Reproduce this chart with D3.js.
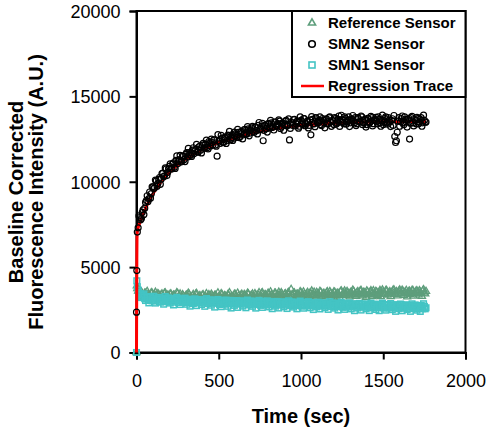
<!DOCTYPE html>
<html><head><meta charset="utf-8">
<script src="https://cdn.jsdelivr.net/npm/d3@7"></script>
<style>html,body{margin:0;padding:0;background:#fff;}svg{display:block;font-family:Arial,"Liberation Sans",sans-serif;}</style>
</head><body><svg id="c" width="488" height="433"></svg>
<script>
const xTicks=[0,500,1000,1500,2000];
const yTicks=[0,5000,10000,15000,20000];
const seriesNames=["Reference Sensor","SMN2 Sensor","SMN1 Sensor","Regression Trace"];
// samples on the 10 s grid
const time=[0,2,5,10,20,30,40,50,60,70,80,90,100,110,120,130,140,150,160,170,180,190,200,210,220,230,240,250,260,270,280,290,300,310,320,330,340,350,360,370,380,390,400,410,420,430,440,450,460,470,480,490,500,510,520,530,540,550,560,570,580,590,600,610,620,630,640,650,660,670,680,690,700,710,720,730,740,750,760,770,780,790,800,810,820,830,840,850,860,870,880,890,900,910,920,930,940,950,960,970,980,990,1000,1010,1020,1030,1040,1050,1060,1070,1080,1090,1100,1110,1120,1130,1140,1150,1160,1170,1180,1190,1200,1210,1220,1230,1240,1250,1260,1270,1280,1290,1300,1310,1320,1330,1340,1350,1360,1370,1380,1390,1400,1410,1420,1430,1440,1450,1460,1470,1480,1490,1500,1510,1520,1530,1540,1550,1560,1570,1580,1590,1600,1610,1620,1630,1640,1650,1660,1670,1680,1690,1700,1710,1720,1730,1740,1750,1760];
const smn2=[2360,4800,7050,7300,7900,7850,8350,8450,8900,8850,9400,9300,9700,9650,10050,9900,10250,10150,10500,10350,10750,10550,10900,10750,11050,10850,11250,11050,11300,11150,11500,11300,11600,11450,11700,11550,11850,11650,11900,11750,12050,11850,12150,11950,12200,12000,12350,12100,12300,12450,12150,11500,12400,12250,12550,12300,12600,12400,12700,12450,12750,12550,12800,12600,12900,12650,12950,12750,13050,12800,13100,12850,13150,12950,13200,13000,13300,13050,13250,12400,13300,13100,13400,13150,13450,13200,13500,13250,13400,13550,13200,13450,13300,13600,13350,12450,13500,13300,13650,13400,13550,13250,13600,13350,13700,13400,13550,13300,12750,13650,13400,13750,13450,13600,13350,13700,13450,13650,13400,13750,13500,13600,13350,13700,13450,13850,13500,13650,13400,13700,13500,13800,13450,13650,13550,13750,13400,13700,13500,13800,13450,13650,13350,13700,13500,13750,13400,13650,13550,13800,13450,13600,13350,13700,13450,13750,13500,13600,13300,12650,12400,13550,13250,13700,13450,13800,13500,13650,12500,13750,13450,13650,13400,13700,13500,13750,13450,13600,13500];
const reference=[0,3900,3750,3600,3450,3550,3350,3480,3300,3420,3250,3500,3330,3400,3260,3450,3300,3380,3220,3470,3310,3360,3240,3420,3280,3350,3200,3460,3300,3250,3380,3210,3330,3270,3400,3180,3320,3250,3410,3190,3300,3230,3360,3170,3290,3220,3380,3160,3310,3240,3350,3190,3270,3220,3390,3180,3300,3240,3370,3200,3280,3230,3400,3210,3320,3250,3420,3200,3340,3270,3430,3220,3350,3280,3450,3230,3360,3300,3460,3240,3370,3290,3480,3250,3380,3310,3470,3260,3390,3320,3500,3270,3400,3330,3480,3280,3700,3340,3490,3290,3420,3350,3510,3300,3430,3360,3520,3290,3440,3370,3530,3310,3450,3380,3540,3320,3460,3390,3560,3330,3470,3400,3550,3340,3480,3410,3570,3350,3490,3420,3580,3360,3500,3430,3590,3370,3510,3440,3600,3380,3520,3450,3610,3390,3530,3460,3620,3400,3540,3470,3630,3410,3550,3480,3640,3420,3560,3490,3650,3430,3570,3500,3660,3440,3580,3510,3640,3450,3590,3520,3630,3460,3600,3530,3620,3470,3610,3500,3580];
const smn1=[0,4200,3850,3650,3400,3250,3350,3150,3280,3100,3220,3050,3180,3020,3200,3080,2980,3150,3040,3190,2970,3110,3010,3160,2950,3090,3020,3170,2940,3060,2990,3140,2930,3070,2980,3120,2920,3050,2970,3100,2900,3040,2960,3090,2890,3030,2950,3080,2880,3020,2940,3070,2870,3010,2930,3060,2860,3000,2920,3050,2850,2990,2910,3040,2840,2980,2900,3030,2830,2970,2890,3020,2820,2960,2880,3010,2810,2950,2870,3000,2800,2940,2860,2990,2790,2930,2850,2980,2780,2920,2840,2970,2770,2910,2830,2960,2760,2900,2820,2950,2750,2890,2810,2940,2740,2880,2800,2930,2730,2870,2790,2920,2720,2860,2780,2910,2710,2850,2770,2900,2700,2840,2760,2890,2690,2830,2750,2880,2680,2820,2740,2870,2670,2810,2730,2860,2660,2800,2720,2850,2650,2790,2710,2840,2640,2780,2700,2830,2630,2770,2690,2820,2620,2760,2680,2810,2610,2750,2670,2800,2600,2740,2660,2790,2590,2730,2650,2780,2580,2720,2640,2770,2570,2710,2630,2760,2560,2700,2620];
// samples in between (5 s offset)
const time2=[15,25,35,45,55,65,75,85,95,105,115,125,135,145,155,165,175,185,195,205,215,225,235,245,255,265,275,285,295,305,315,325,335,345,355,365,375,385,395,405,415,425,435,445,455,465,475,485,495,505,515,525,535,545,555,565,575,585,595,605,615,625,635,645,655,665,675,685,695,705,715,725,735,745,755,765,775,785,795,805,815,825,835,845,855,865,875,885,895,905,915,925,935,945,955,965,975,985,995,1005,1015,1025,1035,1045,1055,1065,1075,1085,1095,1105,1115,1125,1135,1145,1155,1165,1175,1185,1195,1205,1215,1225,1235,1245,1255,1265,1275,1285,1295,1305,1315,1325,1335,1345,1355,1365,1375,1385,1395,1405,1415,1425,1435,1445,1455,1465,1475,1485,1495,1505,1515,1525,1535,1545,1555,1565,1575,1585,1595,1605,1615,1625,1635,1645,1655,1665,1675,1685,1695,1705,1715,1725,1735,1745,1755];
const smn2b=[8000,7770,8210,8080,8790,9180,9010,9040,9700,9610,10100,9740,10140,9850,10470,10300,10810,10360,10770,11050,10760,11110,10780,11510,11170,
11550,11190,11500,11180,11700,11950,11590,11480,11990,11800,12190,11730,12080,11690,12250,12000,12440,11920,12270,12500,12160,12460,12080,12760,12380,
12720,12320,12590,12240,12730,12950,12560,12420,12910,12700,13070,12590,12920,12510,13060,12800,13230,12690,13030,13240,12890,13180,12800,13470,13090,
13420,13010,13270,12910,13390,13595,13190,13030,13500,13270,13620,13120,13440,13015,13550,13270,13680,13125,13440,13640,13265,13540,13140,13795,13390,
13705,13280,13525,13150,13615,13810,13390,13225,13690,13460,13800,13295,13600,13160,13685,13400,13800,13245,13560,13750,13375,13650,13240,13895,13490,
13800,13370,13610,13230,13690,13880,13460,13290,13750,13510,13850,13340,13640,13200,13720,13430,13830,13270,13580,13770,13390,13660,13250,13900,13490,
13800,13370,13610,13230,13690,13880,12300,12900,13750,13510,13850,13340,13640,13200,13720,13430,13830,13270,13580,13770,13390,13660,13250,13900,13490];
const reference2=[3600,3310,3435,3200,3465,3580,3315,3205,3480,3325,3530,3215,3395,3120,3430,3250,3490,3140,3330,3430,3205,3365,3110,3500,3255,
3430,3170,3315,3090,3365,3480,3225,3125,3400,3255,3460,3155,3335,3070,3380,3210,3450,3110,3300,3410,3185,3345,3100,3490,3245,
3450,3190,3335,3110,3385,3500,3245,3145,3420,3275,3480,3175,3355,3090,3400,3230,3470,3130,3320,3430,3205,3365,3120,3510,3265,
3500,3240,3385,3160,3435,3550,3295,3195,3470,3325,3530,3225,3405,3140,3450,3280,3520,3180,3370,3480,3255,3415,3170,3560,3315,
3550,3290,3435,3210,3485,3600,3345,3245,3520,3375,3580,3275,3455,3190,3500,3330,3570,3230,3420,3530,3305,3465,3220,3610,3365,
3600,3340,3485,3260,3535,3650,3395,3295,3570,3425,3630,3325,3505,3240,3550,3380,3620,3280,3470,3580,3355,3515,3270,3660,3415,
3620,3360,3505,3280,3555,3670,3415,3315,3590,3445,3650,3345,3525,3260,3570,3400,3640,3300,3490,3600,3375,3535,3290,3680,3435];
const smn1b=[3220,3440,3220,3430,3045,3235,2905,3250,3025,3295,2895,3100,3225,2950,3125,2830,3280,2990,3200,2895,3055,2785,3105,3230,2930,
2810,3125,2950,3185,2825,3030,2715,3075,2865,3140,2745,2955,3085,2815,2995,2705,3155,2865,3075,2770,2930,2660,2980,3105,2805,
2685,3000,2830,3065,2705,2910,2605,2965,2760,3035,2640,2850,2985,2720,2900,2620,3070,2785,2995,2705,2865,2600,2925,3050,2760,
2640,2955,2785,3020,2670,2880,2565,2925,2715,2990,2605,2810,2945,2680,2860,2575,3025,2740,2955,2660,2820,2560,2880,3010,2715,
2595,2910,2740,2975,2620,2830,2515,2880,2670,2945,2550,2760,2890,2630,2810,2525,2975,2690,2895,2600,2760,2490,2815,2945,2645,
2525,2845,2670,2905,2555,2765,2450,2815,2605,2880,2485,2700,2830,2565,2745,2455,2895,2610,2820,2520,2680,2450,2770,2895,2600,
2480,2800,2625,2865,2510,2720,2410,2775,2565,2840,2445,2655,2785,2520,2700,2410,2850,2565,2775,2480,2640,2405,2730,2855,2560];
// fitted regression trace
const regTime=[0,1,2,3,5,10,20,40,60,80,100,150,200,250,300,400,500,600,700,800,900,1000,1100,1200,1300,1400,1500,1600,1700,1760];
const regValue=[0,3000,5500,6700,7100,7300,7600,8100,8550,8950,9300,10000,10550,11000,11350,11900,12300,12600,12850,13050,13200,13300,13380,13430,13470,13500,13510,13520,13530,13530];

const svg=d3.select("#c");
const L=136.5,R=465.5,T=11,B=352.5;
const x=d3.scaleLinear().domain([0,2000]).range([L,R]);
const y=d3.scaleLinear().domain([0,20000]).range([B,T]);
const green="#5e9e7c", cyan="#44c4c4";

svg.append("rect").attr("x",L).attr("y",T).attr("width",R-L).attr("height",B-T)
  .attr("fill","none").attr("stroke","#000").attr("stroke-width",2);

const xa=svg.append("g").attr("transform",`translate(0,${B})`)
  .call(d3.axisBottom(x).tickValues(xTicks).tickSize(7).tickPadding(15).tickFormat(d3.format("d")));
const ya=svg.append("g").attr("transform",`translate(${L},0)`)
  .call(d3.axisLeft(y).tickValues(yTicks).tickSize(7).tickPadding(9).tickFormat(d3.format("d")));
[xa,ya].forEach(a=>{
  a.select(".domain").attr("stroke-width",2);
  a.selectAll(".tick line").attr("stroke-width",2);
  a.selectAll(".tick text").attr("font-size",18).attr("font-family","Arial, 'Liberation Sans', sans-serif").attr("fill","#000");
});
ya.selectAll(".tick text").attr("dy","0.35em");

const pairs=(ts,vs)=>ts.map((t,i)=>[t,vs[i]]);
const tri=d3.symbol().type(d3.symbolTriangle).size(22);
svg.append("g").selectAll("path").data(pairs(time,reference).concat(pairs(time2,reference2))).join("path")
  .attr("d",tri).attr("transform",d=>`translate(${x(d[0])},${y(d[1])})`)
  .attr("fill","none").attr("stroke",green).attr("stroke-width",1.3);
svg.append("g").selectAll("rect").data(pairs(time,smn1).concat(pairs(time2,smn1b))).join("rect")
  .attr("x",d=>x(d[0])-2.8).attr("y",d=>y(d[1])-2.8).attr("width",5.6).attr("height",5.6)
  .attr("fill","none").attr("stroke",cyan).attr("stroke-width",1.5);
svg.append("path").datum(pairs(regTime,regValue))
  .attr("d",d3.line().x(d=>x(d[0])).y(d=>y(d[1])))
  .attr("fill","none").attr("stroke","#ff0000").attr("stroke-width",3);
svg.append("g").selectAll("circle").data(pairs(time,smn2).concat(pairs(time2,smn2b))).join("circle")
  .attr("cx",d=>x(d[0])).attr("cy",d=>y(d[1])).attr("r",3)
  .attr("fill","none").attr("stroke","#000").attr("stroke-width",1.2);

// legend
const lg=svg.append("g");
lg.append("rect").attr("x",292).attr("y",T).attr("width",R-292).attr("height",86)
  .attr("fill","#fff").attr("stroke","#000").attr("stroke-width",2);
const rowsY=[23,44,65,86];
lg.append("path").attr("d",tri).attr("transform",`translate(312,${rowsY[0]})`).attr("fill","none").attr("stroke",green).attr("stroke-width",1.6);
lg.append("circle").attr("cx",312).attr("cy",rowsY[1]).attr("r",3.3).attr("fill","none").attr("stroke","#000").attr("stroke-width",1.6);
lg.append("rect").attr("x",309).attr("y",rowsY[2]-3).attr("width",6).attr("height",6).attr("fill","none").attr("stroke",cyan).attr("stroke-width",1.6);
lg.append("line").attr("x1",301).attr("x2",324).attr("y1",rowsY[3]).attr("y2",rowsY[3]).attr("stroke","#ff0000").attr("stroke-width",2.5);
lg.selectAll("text").data(seriesNames).join("text")
  .attr("x",328).attr("y",(d,i)=>rowsY[i]).attr("dy","0.36em")
  .attr("font-size",15).attr("font-weight","bold").text(d=>d);

svg.append("text").attr("x",(L+R)/2).attr("y",423).attr("text-anchor","middle")
  .attr("font-size",20).attr("font-weight","bold").text("Time (sec)");
const yt=svg.append("text").attr("transform","translate(0,192) rotate(-90)").attr("text-anchor","middle")
  .attr("font-size",20).attr("font-weight","bold");
yt.append("tspan").attr("x",0).attr("y",23).text("Baseline Corrected");
yt.append("tspan").attr("x",0).attr("y",43).text("Fluorescence Intensity (A.U.)");
</script></body></html>
